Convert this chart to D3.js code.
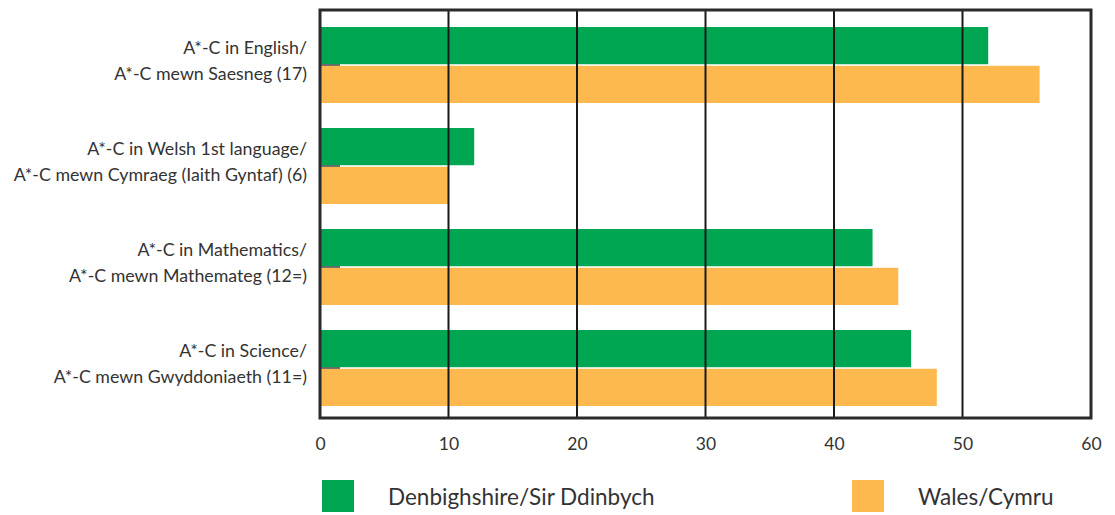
<!DOCTYPE html>
<html lang="en">
<head>
<meta charset="UTF-8">
<title>A*-C results</title>
<style>
  body, html { margin: 0; padding: 0; background: #fff; }
  svg text { font-family: "Lato", "Open Sans", sans-serif; fill: #333; }
</style>
</head>
<body>
<svg id="svg" width="1115" height="515"></svg>
<script src="https://d3js.org/d3.v7.min.js"></script>
<script>
  // data
  const categories = ["english", "welsh", "maths", "science"];
  const labelLines = [
    ["A*-C in English/", "A*-C mewn Saesneg (17)"],
    ["A*-C in Welsh 1st language/", "A*-C mewn Cymraeg (Iaith Gyntaf) (6)"],
    ["A*-C in Mathematics/", "A*-C mewn Mathemateg (12=)"],
    ["A*-C in Science/", "A*-C mewn Gwyddoniaeth (11=)"]
  ];
  const seriesNames = ["Denbighshire/Sir Ddinbych", "Wales/Cymru"];
  const denbighshire = [52, 12, 43, 46];
  const wales = [56, 10, 45, 48];
  const xTicks = [0, 10, 20, 30, 40, 50, 60];
  const colors = ["#00a651", "#fdb94e"];

  const plotLeft = 320, plotRight = 1091, plotTop = 10, plotBottom = 418;
  const svg = d3.select("#svg");

  const x = d3.scaleLinear().domain([0, 60]).range([plotLeft, plotRight]);
  const y = d3.scaleBand()
    .domain(categories)
    .range([plotTop, plotBottom])
    .paddingInner(0.2475)
    .paddingOuter(0.1436)
    .align(0.586);
  const sub = d3.scaleBand().domain([0, 1]).range([0, y.bandwidth()]).paddingInner(0.04);

  const rows = categories.map((c, i) => ({ cat: c, vals: [denbighshire[i], wales[i]] }));

  // bars
  const g = svg.append("g");
  rows.forEach(r => {
    g.selectAll(null)
      .data(r.vals)
      .join("rect")
      .attr("x", x(0))
      .attr("y", (d, j) => y(r.cat) + sub(j))
      .attr("width", d => x(d) - x(0))
      .attr("height", sub.bandwidth())
      .attr("fill", (d, j) => colors[j]);
  });

  // gridlines over bars
  svg.append("g")
    .selectAll("line")
    .data(xTicks.filter(t => t > 0 && t < 60))
    .join("line")
    .attr("x1", d => x(d)).attr("x2", d => x(d))
    .attr("y1", plotTop).attr("y2", plotBottom)
    .attr("stroke", "#1a1a1a")
    .attr("stroke-width", 2);

  // small category ticks inside left edge
  svg.append("g")
    .selectAll("line")
    .data(categories)
    .join("line")
    .attr("x1", plotLeft).attr("x2", plotLeft + 20)
    .attr("y1", d => y(d) + y.bandwidth() / 2)
    .attr("y2", d => y(d) + y.bandwidth() / 2)
    .attr("stroke", "#444")
    .attr("stroke-width", 1.5);

  // frame
  svg.append("rect")
    .attr("x", plotLeft).attr("y", plotTop)
    .attr("width", plotRight - plotLeft).attr("height", plotBottom - plotTop)
    .attr("fill", "none")
    .attr("stroke", "#2a2a2a")
    .attr("stroke-width", 3);

  // x axis labels
  const xAxis = d3.axisBottom(x).tickValues(xTicks).tickSize(0).tickPadding(20);
  const ax = svg.append("g")
    .attr("transform", `translate(0, ${plotBottom})`)
    .call(xAxis);
  ax.select(".domain").remove();
  ax.selectAll("text")
    .style("font-family", "Lato, sans-serif")
    .style("font-size", "17.5px")
    .style("fill", "#333");

  // category labels
  const lab = svg.append("g");
  categories.forEach((c, i) => {
    const cy = y(c) + y.bandwidth() / 2;
    lab.append("text")
      .attr("x", 307)
      .attr("y", cy - 11)
      .attr("text-anchor", "end")
      .style("font-size", "17.8px")
      .text(labelLines[i][0]);
    lab.append("text")
      .attr("x", 307)
      .attr("y", cy + 15)
      .attr("text-anchor", "end")
      .style("font-size", "17.8px")
      .text(labelLines[i][1]);
  });

  // legend
  const legendX = [322, 852];
  seriesNames.forEach((name, i) => {
    svg.append("rect")
      .attr("x", legendX[i]).attr("y", 480)
      .attr("width", 32).attr("height", 32)
      .attr("fill", colors[i]);
    svg.append("text")
      .attr("x", legendX[i] + 66)
      .attr("y", 505)
      .style("font-size", "22.5px")
      .text(name);
  });
</script>
</body>
</html>
